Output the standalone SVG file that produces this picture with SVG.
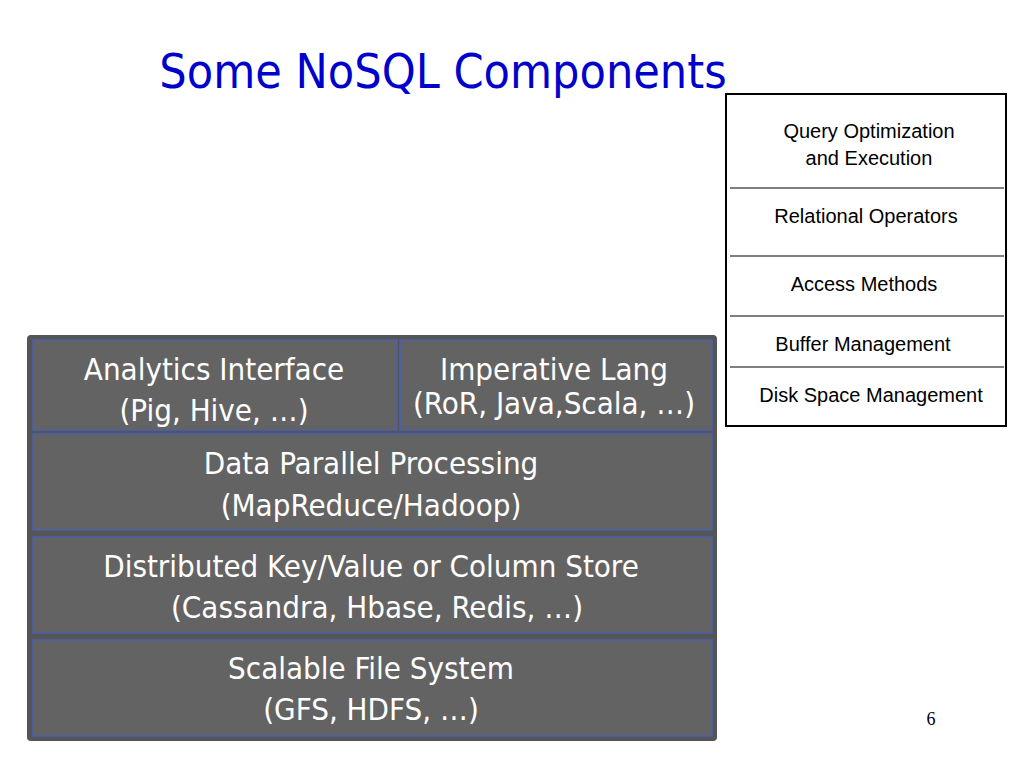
<svg xmlns="http://www.w3.org/2000/svg" width="1024" height="768" viewBox="0 0 1024 768">
<style>
.blk{fill:#636363;stroke:#4a60b0;stroke-width:1.5}
.sh{fill:#555}
.w{font-family:"DejaVu Sans Condensed","DejaVu Sans",sans-serif;fill:#fff;text-anchor:middle;font-size:31px}
.s{font-family:"Liberation Sans",Arial,sans-serif;fill:#000;text-anchor:middle;font-size:20px}
.ln{stroke:#000;stroke-width:1.2}
</style>
<rect width="1024" height="768" fill="#fff"/>
<text x="443" y="88" font-family="'DejaVu Sans Condensed','DejaVu Sans',sans-serif" font-size="48" fill="#0000cc" text-anchor="middle">Some NoSQL Components</text>
<g id="stack">
<rect x="726" y="94" width="280" height="332" fill="#fff" stroke="#000" stroke-width="2"/>
<line class="ln" x1="730" y1="188" x2="1004" y2="188"/>
<line class="ln" x1="730" y1="256" x2="1004" y2="256"/>
<line class="ln" x1="730" y1="316" x2="1004" y2="316"/>
<line class="ln" x1="730" y1="367" x2="1004" y2="367"/>
<text class="s" x="869" y="138">Query Optimization</text>
<text class="s" x="869" y="165">and Execution</text>
<text class="s" x="866" y="223">Relational Operators</text>
<text class="s" x="864" y="291">Access Methods</text>
<text class="s" x="863" y="351">Buffer Management</text>
<text class="s" x="871" y="402">Disk Space Management</text>
</g>
<rect class="sh" x="27" y="335" width="690" height="406" rx="4"/>
<g id="analytics"><rect class="blk" x="33" y="340" width="364" height="90"/>
<text class="w" x="214" y="380">Analytics Interface</text><text class="w" x="214" y="421">(Pig, Hive, …)</text></g>
<g id="imperative"><rect class="blk" x="400" y="340" width="312" height="90"/>
<text class="w" x="554" y="380">Imperative Lang</text><text class="w" x="554" y="414" font-size="22">(RoR, Java,Scala, …)</text></g>
<g id="dpp"><rect class="blk" x="33" y="434" width="679" height="96"/>
<text class="w" x="371" y="474">Data Parallel Processing</text><text class="w" x="371" y="516">(MapReduce/Hadoop)</text></g>
<g id="kv"><rect class="blk" x="33" y="537" width="679" height="96"/>
<text class="w" x="371" y="577">Distributed Key/Value or Column Store</text><text class="w" x="377" y="618">(Cassandra, Hbase, Redis, …)</text></g>
<g id="fs"><rect class="blk" x="33" y="640" width="679" height="96"/>
<text class="w" x="371" y="679">Scalable File System</text><text class="w" x="371" y="720">(GFS, HDFS, …)</text></g>
<g id="connectors"/>
<text x="931" y="725" font-family="'Liberation Serif',serif" font-size="18" text-anchor="middle">6</text>
</svg>
